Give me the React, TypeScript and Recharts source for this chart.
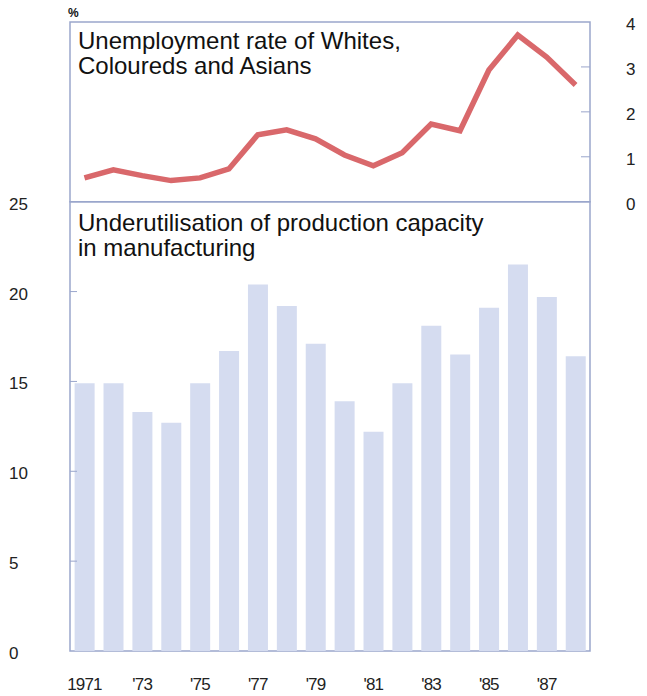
import { ComposedChart, Bar, Line, XAxis, YAxis, ReferenceArea } from 'recharts';

const years = [1971, 1972, 1973, 1974, 1975, 1976, 1977, 1978, 1979, 1980, 1981, 1982, 1983, 1984, 1985, 1986, 1987, 1988];
const underutilisation = [14.9, 14.9, 13.3, 12.7, 14.9, 16.7, 20.4, 19.2, 17.1, 13.9, 12.2, 14.9, 18.1, 16.5, 19.1, 21.5, 19.7, 16.4];
const unemployment = [0.53, 0.71, 0.58, 0.47, 0.53, 0.73, 1.49, 1.6, 1.4, 1.04, 0.8, 1.09, 1.73, 1.58, 2.93, 3.71, 3.22, 2.6];
const leftTicks = [0, 5, 10, 15, 20, 25];
const rightTicks = [0, 1, 2, 3, 4];

const data = years.map((year, i) => ({
  year,
  capacity: underutilisation[i],
  unemployment: unemployment[i],
}));

const FONT = '"Liberation Sans", Arial, Helvetica, sans-serif';
const BORDER = '#9aa6cc';

const LeftTick = ({ y, payload }: any) => (
  <g>
    <text x={9} y={y} dy={8} fontSize={17} fill="#222" fontFamily={FONT} textAnchor="start">
      {payload.value}
    </text>
    {payload.value > 0 && payload.value < 25 && (
      <line x1={70} x2={77} y1={y} y2={y} stroke={BORDER} />
    )}
  </g>
);

const RightTick = ({ y, payload }: any) => (
  <g>
    <text x={626} y={y} dy={8} fontSize={17} fill="#222" fontFamily={FONT} textAnchor="start">
      {payload.value}
    </text>
    {payload.value > 0 && payload.value < 4 && (
      <line x1={581} x2={590} y1={y} y2={y} stroke={BORDER} />
    )}
  </g>
);

const XTick = ({ x, y, payload }: any) => (
  <text x={x} y={y} dy={31} fontSize={17} letterSpacing={-0.8} fill="#222" fontFamily={FONT} textAnchor="middle">
    {payload.value === 1971 ? '1971' : `'${String(payload.value).slice(2)}`}
  </text>
);

export default function App() {
  return (
    <div style={{ position: 'absolute', left: 0, top: 0, width: 647, height: 696, background: '#fff' }}>
      <ComposedChart width={647} height={696} data={data} margin={{ top: 22, right: 0, bottom: 0, left: 0 }} barCategoryGap="16%">
        <XAxis dataKey="year" xAxisId="x" height={45} interval={1} axisLine={false} tickLine={false} tick={<XTick />} />
        <YAxis yAxisId="left" orientation="left" width={70} domain={[0, 35]} ticks={leftTicks} axisLine={false} tickLine={false} tick={<LeftTick />} />
        <YAxis yAxisId="right" orientation="right" width={57} domain={[-10, 4]} ticks={rightTicks} axisLine={false} tickLine={false} tick={<RightTick />} />
        <ReferenceArea xAxisId="x" yAxisId="left" y1={0} y2={25} fill="none" stroke={BORDER} strokeWidth={1.5} />
        <ReferenceArea xAxisId="x" yAxisId="right" y1={0} y2={4} fill="none" stroke={BORDER} strokeWidth={1.5} />
        <Bar xAxisId="x" yAxisId="left" dataKey="capacity" fill="#d5dcf0" isAnimationActive={false} />
        <Line xAxisId="x" yAxisId="right" dataKey="unemployment" type="linear" stroke="#d9686b" strokeWidth={5.5} dot={false} isAnimationActive={false} />
      </ComposedChart>
      <div style={{ position: 'absolute', left: 68, top: 6, fontFamily: FONT, fontSize: 12, fontWeight: 'bold', color: '#111' }}>%</div>
      <div style={{ position: 'absolute', left: 78, top: 28, fontFamily: FONT, fontSize: 24, lineHeight: '25px', color: '#111' }}>
        Unemployment rate of Whites,
        <br />
        Coloureds and Asians
      </div>
      <div style={{ position: 'absolute', left: 78, top: 210, fontFamily: FONT, fontSize: 24, lineHeight: '25px', color: '#111' }}>
        Underutilisation of production capacity
        <br />
        in manufacturing
      </div>
    </div>
  );
}
